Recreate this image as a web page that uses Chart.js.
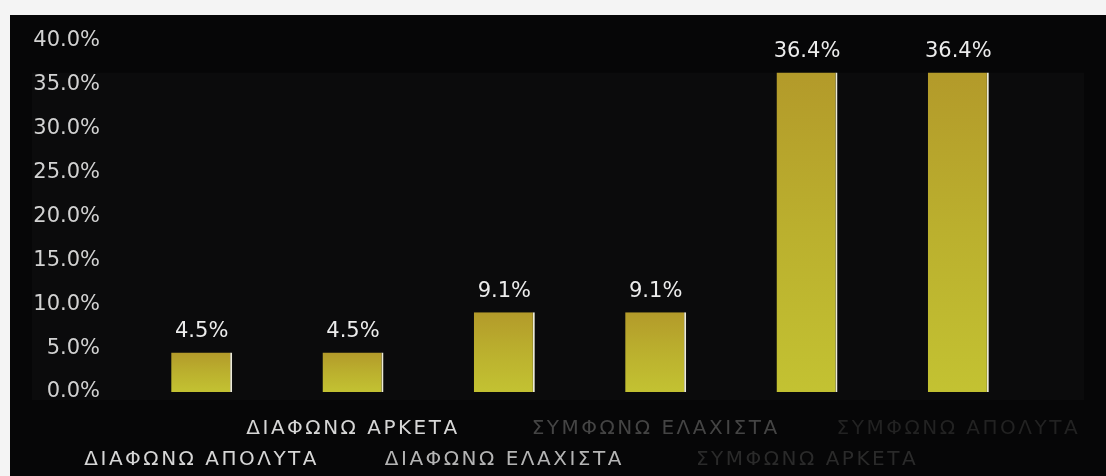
<!DOCTYPE html>
<html lang="el">
  <head>
    <meta charset="UTF-8" />
    <meta name="viewport" content="width=device-width, initial-scale=1.0" />
    <title>Κατανομή απαντήσεων</title>
    <style>
      html, body { margin: 0; padding: 0; background: #f4f4f4; }
      #panel {
        position: absolute;
        left: 10px;
        top: 15px;
        width: 1096px;
        height: 461px;
        background: #060607;
      }
      #myChart { display: block; }
    </style>
  </head>
  <body>
    <div id="panel">
      <canvas id="myChart" width="1096" height="461"></canvas>
    </div>

    <script src="https://cdn.jsdelivr.net/npm/chart.js"></script>
    <script>
      // answer categories, in scale order
      const categories = [
        "ΔΙΑΦΩΝΩ ΑΠΟΛΥΤΑ",
        "ΔΙΑΦΩΝΩ ΑΡΚΕΤΑ",
        "ΔΙΑΦΩΝΩ ΕΛΑΧΙΣΤΑ",
        "ΣΥΜΦΩΝΩ ΕΛΑΧΙΣΤΑ",
        "ΣΥΜΦΩΝΩ ΑΡΚΕΤΑ",
        "ΣΥΜΦΩΝΩ ΑΠΟΛΥΤΑ",
      ];
      // share of answers (%)
      const shares = [4.5, 4.5, 9.1, 9.1, 36.4, 36.4];
      // y axis range (%)
      const yMin = 0;
      const yMax = 40;
      const yStep = 5;
      // the printout fades towards the right
      const labelColors = ["#d6d6d6", "#d6d6d6", "#b4b4b4", "#444444", "#2a2a2a", "#222222"];

      // alternate labels between two rows so they don't overlap
      const staggered = categories.map((c, i) => (i % 2 ? [c, ""] : ["", c]));

      function barGradient(context) {
        const chart = context.chart;
        const y = chart.scales.y;
        if (!y || context.parsed === undefined) return "#bdb22e";
        const top = y.getPixelForValue(context.parsed.y);
        const bottom = y.getPixelForValue(0);
        if (!isFinite(top) || !isFinite(bottom) || top === bottom) return "#bdb22e";
        const g = chart.ctx.createLinearGradient(0, top, 0, bottom);
        g.addColorStop(0, "#b39a2a");
        g.addColorStop(0.5, "#bbb02e");
        g.addColorStop(1, "#c3c232");
        return g;
      }

      // slightly lighter plot box behind everything
      const plotBox = {
        id: "plotBox",
        beforeDraw(chart) {
          const { ctx, chartArea, scales } = chart;
          const top = scales.y.getPixelForValue(Math.max(...shares));
          ctx.save();
          ctx.fillStyle = "#0b0b0c";
          ctx.fillRect(22, top, chartArea.right + 50 - 22, chartArea.bottom + 8 - top);
          ctx.restore();
        },
      };

      // value above each bar
      const valueLabels = {
        id: "valueLabels",
        afterDatasetsDraw(chart) {
          const { ctx } = chart;
          const meta = chart.getDatasetMeta(0);
          ctx.save();
          ctx.font = "21px 'DejaVu Sans'";
          ctx.fillStyle = "#ececec";
          ctx.textAlign = "center";
          ctx.textBaseline = "middle";
          meta.data.forEach((bar, i) => {
            ctx.fillText(shares[i].toFixed(1) + "%", bar.x, bar.y - 21);
          });
          ctx.restore();
        },
      };

      // wider letter spacing for the category labels
      const spacedLabels = {
        id: "spacedLabels",
        afterUpdate(chart) {
          const xs = chart.scales.x;
          if (!xs || xs._spaced) return;
          const draw = xs.drawLabels;
          xs.drawLabels = function (area) {
            this.ctx.save();
            this.ctx.letterSpacing = "2.5px";
            draw.call(this, area);
            this.ctx.restore();
          };
          xs._spaced = true;
        },
      };

      const ctx = document.getElementById("myChart").getContext("2d");
      const chart = new Chart(ctx, {
        type: "bar",
        data: {
          labels: staggered,
          datasets: [
            {
              data: shares,
              backgroundColor: barGradient,
              borderColor: "#ecead8",
              borderWidth: { top: 0, left: 0, bottom: 0, right: 2 },
              borderSkipped: false,
              categoryPercentage: 1,
              barPercentage: 0.403,
            },
          ],
        },
        options: {
          responsive: false,
          animation: false,
          layout: { padding: { left: 22, top: 26, right: 72, bottom: 0 } },
          plugins: {
            legend: { display: false },
            tooltip: { enabled: false },
          },
          scales: {
            x: {
              grid: { display: false, drawTicks: false },
              border: { display: false },
              ticks: {
                autoSkip: false,
                maxRotation: 0,
                minRotation: 0,
                padding: 21,
                color: (c) => labelColors[c.index],
                font: { family: "'DejaVu Sans'", size: 20, lineHeight: 1.55 },
              },
              afterFit(scale) {
                scale.height = 84;
              },
            },
            y: {
              min: yMin,
              max: yMax,
              grid: { display: false, drawTicks: false },
              border: { display: false },
              ticks: {
                stepSize: yStep,
                padding: 26,
                color: "#d2d2d2",
                font: { family: "'DejaVu Sans'", size: 21 },
                callback: (v) => v.toFixed(1) + "%",
              },
              afterFit(scale) {
                scale.width = 94;
                // the gap to the bars shouldn't push the plot down
                scale.paddingTop = 12;
                scale.paddingBottom = 12;
              },
            },
          },
        },
        plugins: [plotBox, valueLabels, spacedLabels],
      });
    </script>
  </body>
</html>
